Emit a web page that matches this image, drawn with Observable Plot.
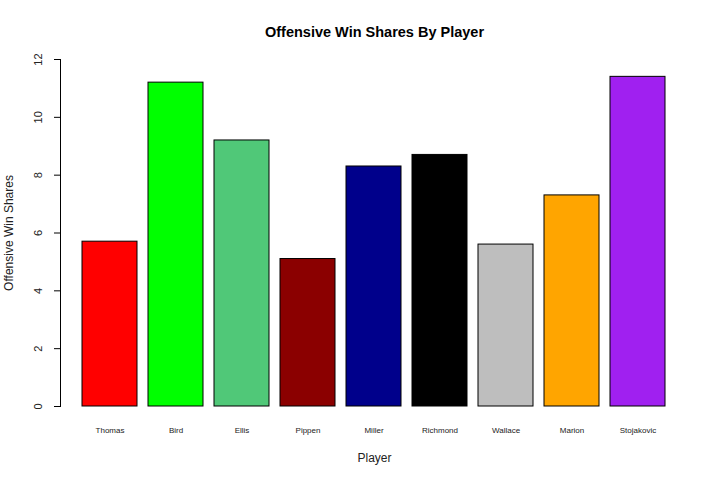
<!DOCTYPE html>
<html>
<head>
<meta charset="utf-8">
<script src="https://cdn.jsdelivr.net/npm/d3@7"></script>
<script src="https://cdn.jsdelivr.net/npm/@observablehq/plot@0.6"></script>
<style>
  html, body { margin: 0; padding: 0; background: #fff; }
  svg { font-family: "Liberation Sans", Arial, sans-serif; }
</style>
</head>
<body>
<div id="chart"></div>
<script>
const players = ["Thomas", "Bird", "Ellis", "Pippen", "Miller", "Richmond", "Wallace", "Marion", "Stojakovic"];
const winShares = [5.7, 11.2, 9.2, 5.1, 8.3, 8.7, 5.6, 7.3, 11.4];
const barColors = ["#FF0000", "#00FF00", "#50C878", "#8B0000", "#00008B", "#000000", "#BEBEBE", "#FFA500", "#A020F0"];
const yTicks = [0, 2, 4, 6, 8, 10, 12];

const data = players.map((p, i) => ({player: p, value: winShares[i]}));

const chart = Plot.plot({
  width: 720,
  height: 480,
  marginTop: 59,
  marginBottom: 74,
  marginLeft: 60,
  marginRight: 32,
  style: {fontFamily: "Liberation Sans, Arial, sans-serif", background: "#fff"},
  x: {domain: players, range: [81, 666], paddingInner: 0.2 / 1.2, paddingOuter: 0},
  y: {domain: [0, 12]},
  color: {domain: players, range: barColors},
  marks: [
    Plot.barY(data, {x: "player", y: "value", fill: "player", stroke: "#000", strokeWidth: 1}),
    Plot.axisX({tickSize: 0, tickPadding: 21, fontSize: 8, label: null, fill: "#222"}),
    Plot.axisY({ticks: yTicks, tickSize: 6, tickFormat: () => "", label: null}),
    Plot.frame({anchor: "left", stroke: "#000"}),
    Plot.text(yTicks, {y: d => d, frameAnchor: "left", dx: -22, rotate: -90, textAnchor: "middle", text: d => String(d), fontSize: 11, fill: "#222"}),
    Plot.text(["Offensive Win Shares By Player"], {frameAnchor: "top", dy: -33, fontSize: 14.5, fontWeight: "bold", fill: "#000"}),
    Plot.text(["Player"], {frameAnchor: "bottom", dy: 55, fontSize: 12, fill: "#222"}),
    Plot.text(["Offensive Win Shares"], {frameAnchor: "left", dx: -51, rotate: -90, textAnchor: "middle", fontSize: 12, fill: "#222"})
  ]
});

document.getElementById("chart").appendChild(chart);
</script>
</body>
</html>
